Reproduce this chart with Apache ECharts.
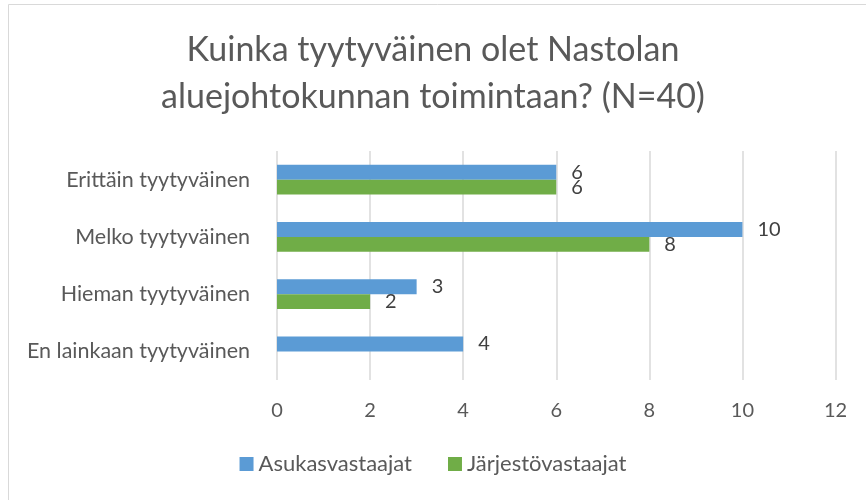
<!DOCTYPE html>
<html>
<head>
<meta charset="utf-8">
<script src="https://cdn.jsdelivr.net/npm/echarts@6/dist/echarts.min.js"></script>
<style>
html,body{margin:0;padding:0;background:#fff;}
#chart{width:866px;height:500px;}
</style>
</head>
<body>
<div id="chart"></div>
<script>
const titleText = 'Kuinka tyytyväinen olet Nastolan\naluejohtokunnan toimintaan? (N=40)';
const categories = ['En lainkaan tyytyväinen', 'Hieman tyytyväinen', 'Melko tyytyväinen', 'Erittäin tyytyväinen'];
const seriesNames = ['Asukasvastaajat', 'Järjestövastaajat'];
const asukasValues = [4, 3, 10, 6];
const jarjestoValues = [null, 2, 8, 6];
const xMin = 0, xMax = 12, xInterval = 2;

const FONT = 'Lato';
const chart = echarts.init(document.getElementById('chart'), null, {renderer: 'canvas'});
const labelStyle = {show: true, position: 'right', distance: 15, color: '#404040', fontSize: 20, fontFamily: FONT};
chart.setOption({
  animation: false,
  backgroundColor: '#fff',
  graphic: [{
    type: 'rect', left: 6, top: 2, shape: {width: 900, height: 600},
    style: {fill: 'none', stroke: '#d9d9d9', lineWidth: 1}, silent: true
  }],
  title: {
    text: titleText, left: 'center', top: 22,
    textStyle: {fontFamily: FONT, fontSize: 34, fontWeight: 'normal', color: '#595959', lineHeight: 47}
  },
  legend: {
    bottom: 20, left: 'center', itemWidth: 14, itemHeight: 14, itemGap: 36,
    icon: 'rect',
    textStyle: {fontFamily: FONT, fontSize: 22, color: '#595959'},
    data: seriesNames
  },
  grid: {left: 277, right: 866 - 835.5, top: 151, bottom: 500 - 380, containLabel: false},
  xAxis: {
    type: 'value', min: xMin, max: xMax, interval: xInterval,
    axisLine: {show: false}, axisTick: {show: false},
    splitLine: {lineStyle: {color: '#d9d9d9', width: 1.5}},
    axisLabel: {fontFamily: FONT, fontSize: 20, color: '#595959', margin: 21}
  },
  yAxis: {
    type: 'category', data: categories, inverse: false,
    axisLine: {show: false}, axisTick: {show: false},
    axisLabel: {fontFamily: FONT, fontSize: 21.5, color: '#595959', margin: 27}
  },
  series: [
    {name: seriesNames[0], type: 'bar', data: asukasValues, barGap: '0%', barCategoryGap: '47.6%',
     itemStyle: {color: '#5b9bd5'}, label: labelStyle},
    {name: seriesNames[1], type: 'bar', data: jarjestoValues, barGap: '0%', barCategoryGap: '47.6%',
     itemStyle: {color: '#70ad47'}, label: labelStyle}
  ]
});
</script>
</body>
</html>
